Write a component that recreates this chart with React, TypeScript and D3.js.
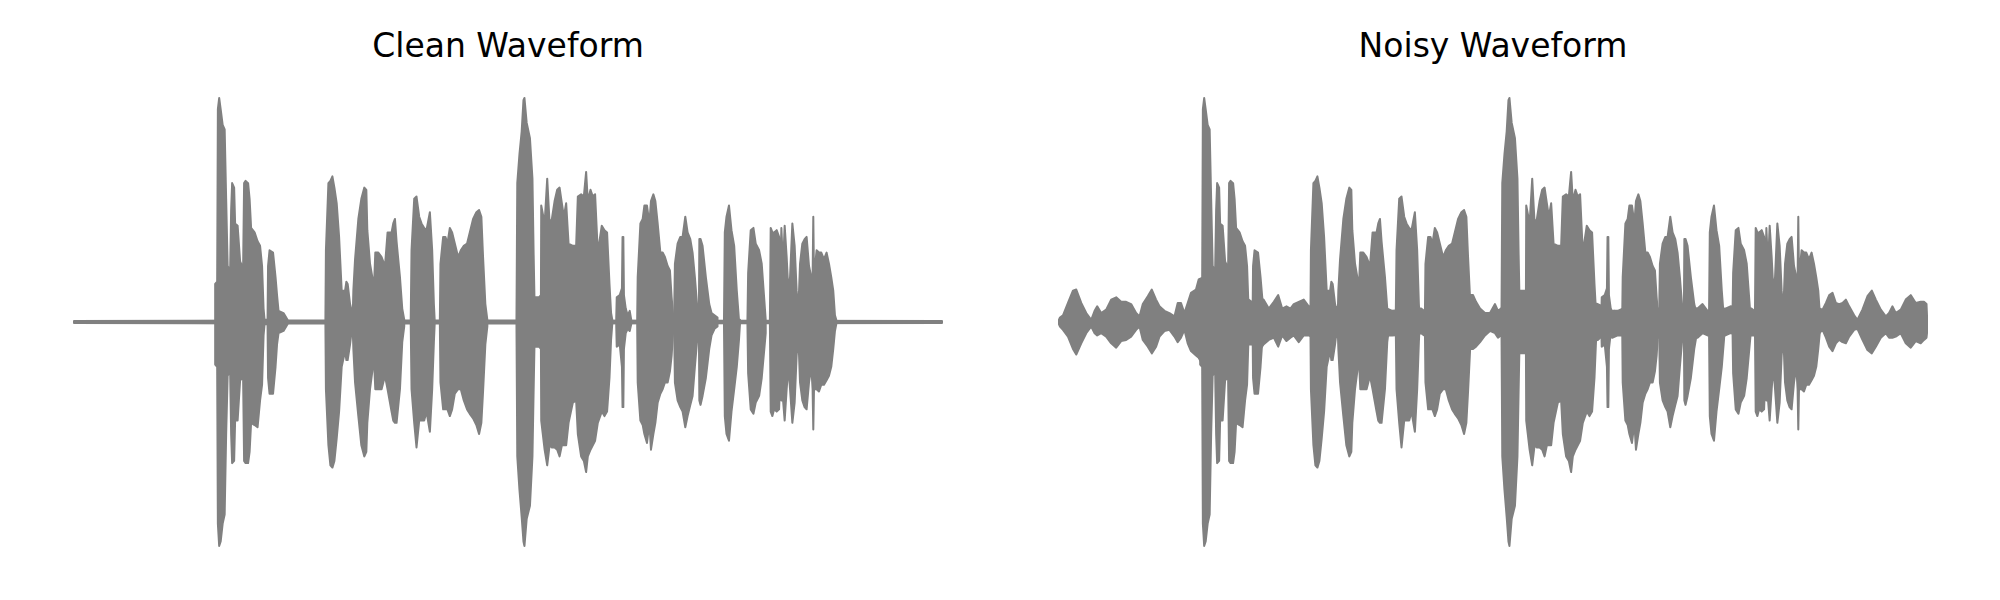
import * as d3 from 'd3';

// envelope points: [frame, upper, lower], amplitude normalised to +-1
type Pt = [number, number, number];

const FRAMES = 870;

const silence: Pt[] = [
  [0, 0.005, -0.005], [120, 0.006, -0.006], [250, 0.007, -0.007],
  [440, 0.007, -0.007], [700, 0.006, -0.006], [870, 0.005, -0.005],
];

const burst1: Pt[] = [
  [141.5, 0.17, -0.19], [143.5, 0.18, -0.2], [144.2, 0.95, -0.9], [145.5, 1.0, -1.0],
  [147, 0.95, -0.98], [149, 0.88, -0.9], [151, 0.86, -0.86], [152.5, 0.55, -0.5],
  [154, 0.25, -0.24], [156.5, 0.23, -0.22], [157.5, 0.5, -0.5], [158.5, 0.62, -0.63],
  [160.5, 0.6, -0.62], [161.5, 0.44, -0.44], [164, 0.43, -0.44], [166.5, 0.27, -0.26],
  [169.5, 0.24, -0.25], [170.5, 0.62, -0.62], [172, 0.63, -0.63], [174.5, 0.62, -0.63],
  [176, 0.55, -0.58], [177.5, 0.42, -0.45], [181, 0.4, -0.46], [184, 0.36, -0.47],
  [186.5, 0.34, -0.35], [188.5, 0.25, -0.28], [190, 0.06, -0.06], [191, 0.01, -0.01],
  [194, 0.01, -0.01], [194.5, 0.25, -0.25], [196, 0.32, -0.32], [199.5, 0.31, -0.32],
  [202, 0.2, -0.2], [203.5, 0.12, -0.1], [205, 0.05, -0.05], [210, 0.04, -0.04],
  [214, 0.01, -0.01],
];

const burst2: Pt[] = [
  [252, 0.015, -0.015], [252.5, 0.32, -0.3], [255, 0.62, -0.55], [257, 0.63, -0.64],
  [259, 0.65, -0.65], [261, 0.6, -0.62], [263.3, 0.53, -0.52], [265.7, 0.38, -0.4],
  [268.3, 0.14, -0.2], [271.7, 0.14, -0.13], [273, 0.18, -0.17], [274.3, 0.17, -0.17],
  [276.7, 0.08, -0.1], [278.3, 0.05, -0.04],
];

const burst3: Pt[] = [
  [279.5, 0.05, -0.05], [280, 0.14, -0.12], [281.7, 0.28, -0.27], [285, 0.46, -0.42],
  [288, 0.55, -0.55], [291, 0.6, -0.6], [293, 0.59, -0.58], [294, 0.41, -0.45],
  [296.7, 0.26, -0.3], [299, 0.2, -0.22], [300.5, 0.14, -0.15], [302, 0.31, -0.3],
  [305, 0.31, -0.3], [308.3, 0.29, -0.3], [311.7, 0.25, -0.24], [314.3, 0.4, -0.3],
  [318.3, 0.4, -0.4], [320, 0.44, -0.44], [321.7, 0.46, -0.45], [323.3, 0.36, -0.45],
  [326.7, 0.2, -0.3], [329, 0.06, -0.09], [331, 0.01, -0.02],
];

const burst4: Pt[] = [
  [337.5, 0.01, -0.01], [338.3, 0.32, -0.3], [341, 0.55, -0.45], [343.3, 0.56, -0.56],
  [346, 0.47, -0.44], [348.3, 0.44, -0.44], [351, 0.42, -0.44], [353.3, 0.41, -0.4],
  [356.7, 0.49, -0.49], [359, 0.32, -0.3], [360.7, 0.08, -0.09], [361.5, 0.01, -0.01],
];

const burst5: Pt[] = [
  [366.7, 0.01, -0.01], [367.3, 0.26, -0.27], [370, 0.38, -0.39], [372.3, 0.38, -0.39],
  [374.3, 0.35, -0.39], [376.7, 0.42, -0.42], [379, 0.4, -0.39], [381.7, 0.35, -0.32],
  [385, 0.29, -0.3], [387.7, 0.32, -0.3], [390.7, 0.34, -0.35], [394, 0.35, -0.39],
  [396.7, 0.4, -0.41], [400, 0.46, -0.43], [403.3, 0.49, -0.46], [406, 0.5, -0.5],
  [408.3, 0.47, -0.45], [410, 0.29, -0.31], [412.3, 0.08, -0.1], [414.3, 0.01, -0.02],
];

const burst6: Pt[] = [
  [443.5, 0.015, -0.015], [444.3, 0.62, -0.6], [446.5, 0.75, -0.75], [448.7, 0.85, -0.87],
  [450.5, 0.99, -0.98], [451.5, 1.0, -1.0], [453.7, 0.89, -0.88], [457, 0.82, -0.82],
  [459.5, 0.64, -0.6], [460.7, 0.3, -0.3], [461.5, 0.11, -0.11], [466, 0.11, -0.11],
  [468, 0.12, -0.12], [468.3, 0.52, -0.44], [471.7, 0.44, -0.57], [474.3, 0.64, -0.64],
  [476.7, 0.44, -0.55], [479, 0.46, -0.56], [481.7, 0.54, -0.56], [484.3, 0.59, -0.57],
  [486.7, 0.6, -0.6], [489, 0.53, -0.55], [491, 0.47, -0.55], [493.3, 0.53, -0.55],
  [495.7, 0.35, -0.45], [500, 0.34, -0.36], [503.3, 0.34, -0.35], [505, 0.56, -0.5],
  [508.3, 0.57, -0.6], [511, 0.56, -0.62], [513.3, 0.67, -0.67], [515, 0.54, -0.6],
  [517.7, 0.59, -0.57], [520, 0.56, -0.55], [522.3, 0.57, -0.53], [525, 0.31, -0.45],
  [529, 0.43, -0.4], [531.7, 0.41, -0.42], [534.3, 0.4, -0.4], [536.7, 0.17, -0.25],
  [538.3, 0.04, -0.08], [539.5, 0.01, -0.01],
];

const burst7: Pt[] = [
  [543.5, 0.02, -0.02], [544, 0.11, -0.11], [547, 0.12, -0.1], [549.2, 0.15, -0.2],
  [549.8, 0.38, -0.38], [550.6, 0.38, -0.38], [551.2, 0.12, -0.12], [553, 0.06, -0.05],
  [555, 0.03, -0.03], [557, 0.05, -0.04], [558.5, 0.01, -0.01],
];

const burst8: Pt[] = [
  [564.5, 0.02, -0.02], [565, 0.2, -0.27], [567.7, 0.44, -0.44], [570, 0.46, -0.46],
  [571.7, 0.52, -0.5], [574.3, 0.52, -0.54], [576.7, 0.44, -0.45], [578.3, 0.54, -0.57],
  [580.7, 0.57, -0.5], [582.7, 0.54, -0.45], [585, 0.44, -0.36], [587.7, 0.31, -0.32],
  [590, 0.31, -0.3], [592.3, 0.29, -0.27], [595, 0.25, -0.27], [597.3, 0.23, -0.22],
  [599, 0.11, -0.15], [600.7, 0.02, -0.03],
];

const burst9: Pt[] = [
  [601.5, 0.02, -0.02], [602.3, 0.26, -0.27], [605, 0.35, -0.35], [607.7, 0.38, -0.38],
  [610, 0.38, -0.4], [612.7, 0.47, -0.47], [615, 0.4, -0.42], [617.7, 0.37, -0.37],
  [620, 0.31, -0.33], [622.3, 0.2, -0.2], [625, 0.05, -0.06],
];

const burst10: Pt[] = [
  [626.3, 0.02, -0.02], [626.8, 0.37, -0.35], [628, 0.37, -0.37], [630, 0.34, -0.33],
  [633.3, 0.2, -0.25], [636.7, 0.08, -0.12], [639, 0.04, -0.06], [642, 0.03, -0.03],
  [645, 0.02, -0.02],
];

const burst11: Pt[] = [
  [651.5, 0.02, -0.02], [652.3, 0.4, -0.42], [654, 0.47, -0.5], [656.5, 0.52, -0.53],
  [659, 0.41, -0.4], [661.7, 0.34, -0.3], [664.3, 0.14, -0.2], [666.5, 0.01, -0.08],
  [667.5, 0.01, -0.01],
];

const burst12: Pt[] = [
  [675, 0.01, -0.01], [675.7, 0.22, -0.23], [678.3, 0.41, -0.39], [681, 0.42, -0.41],
  [683.3, 0.35, -0.36], [686.7, 0.32, -0.33], [689.3, 0.26, -0.25], [691.7, 0.11, -0.13],
  [693.3, 0.01, -0.05],
];

const burst13: Pt[] = [
  [697.5, 0.01, -0.01], [698.3, 0.42, -0.4], [700, 0.4, -0.42], [701.7, 0.4, -0.39],
  [704.3, 0.41, -0.4], [706.7, 0.38, -0.39], [707.7, 0.17, -0.27], [709, 0.42, -0.35],
  [710.7, 0.25, -0.35], [712.3, 0.43, -0.44], [714.3, 0.29, -0.3], [716, 0.14, -0.2],
  [717.7, 0.2, -0.3], [720, 0.44, -0.45], [722.3, 0.34, -0.36], [724.3, 0.14, -0.15],
  [726, 0.05, -0.06], [727.7, 0.26, -0.27], [730, 0.35, -0.35], [732.3, 0.37, -0.38],
  [734.3, 0.38, -0.39], [736.7, 0.25, -0.27], [739, 0.2, -0.2], [740.3, 0.2, -0.3],
  [741, 0.47, -0.48], [741.7, 0.2, -0.3], [744.3, 0.32, -0.3], [746.7, 0.31, -0.31],
  [749, 0.31, -0.28], [751.7, 0.28, -0.28], [754.3, 0.31, -0.26], [756.7, 0.26, -0.24],
  [759, 0.2, -0.2], [761, 0.14, -0.12], [762.7, 0.03, -0.04], [764, 0.01, -0.01],
];

const noiseFloor: Pt[] = [
  [0, 0.01, -0.01], [1, 0.02, -0.02], [4, 0.03, -0.035], [9, 0.085, -0.065],
  [14, 0.14, -0.12], [17.3, 0.145, -0.145], [22.3, 0.085, -0.095], [27.3, 0.04, -0.05],
  [32.3, 0.01, -0.02], [35.7, 0.05, -0.05], [38.3, 0.07, -0.06], [42.3, 0.04, -0.05],
  [47.3, 0.055, -0.065], [52.3, 0.1, -0.095], [57.3, 0.11, -0.115], [62.3, 0.09, -0.085],
  [67.3, 0.09, -0.08], [72.3, 0.08, -0.065], [77.3, 0.04, -0.035], [80.7, 0.025, -0.02],
  [84, 0.08, -0.08], [89, 0.115, -0.11], [93, 0.145, -0.14], [97.3, 0.1, -0.11],
  [100.7, 0.07, -0.065], [105.7, 0.05, -0.04], [110.7, 0.04, -0.035], [115.7, 0.025, -0.065],
  [119, 0.085, -0.09], [122.3, 0.085, -0.07], [125.7, 0.04, -0.035], [129, 0.085, -0.095],
  [132.3, 0.13, -0.13], [137.3, 0.145, -0.15], [140, 0.19, -0.16], [145, 0.2, -0.2],
  [190, 0.1, -0.1], [193, 0.09, -0.1], [202, 0.1, -0.12], [205, 0.1, -0.1],
  [210.3, 0.06, -0.08], [215.3, 0.09, -0.07], [219.7, 0.12, -0.11], [223.7, 0.06, -0.06],
  [228, 0.07, -0.085], [232, 0.06, -0.07], [235.3, 0.08, -0.06], [240.3, 0.09, -0.09],
  [245.3, 0.1, -0.06], [250.3, 0.07, -0.06], [255, 0.07, -0.07], [329, 0.06, -0.06],
  [334, 0.05, -0.06], [363, 0.06, -0.05], [366, 0.05, -0.06], [409, 0.13, -0.14],
  [412, 0.12, -0.12], [415, 0.12, -0.12], [418, 0.09, -0.11], [422, 0.06, -0.09],
  [427, 0.04, -0.06], [432, 0.04, -0.04], [437, 0.08, -0.05], [440, 0.05, -0.07],
  [443, 0.06, -0.06], [462, 0.14, -0.14], [468, 0.14, -0.14], [540, 0.08, -0.08],
  [545, 0.07, -0.06], [555, 0.05, -0.07], [560, 0.05, -0.06], [565, 0.06, -0.06],
  [601, 0.06, -0.07], [626, 0.07, -0.06], [640, 0.06, -0.07], [645, 0.08, -0.05],
  [650, 0.05, -0.06], [668, 0.06, -0.06], [673, 0.07, -0.05], [694, 0.06, -0.06],
  [697, 0.05, -0.06], [727, 0.06, -0.06], [762, 0.06, -0.05], [765.3, 0.055, -0.035],
  [768.7, 0.085, -0.07], [772, 0.12, -0.11], [775.3, 0.13, -0.13], [778.7, 0.085, -0.095],
  [782, 0.08, -0.08], [785.3, 0.085, -0.09], [788.7, 0.1, -0.095], [792, 0.07, -0.065],
  [797, 0.03, -0.035], [800.3, 0.01, -0.03], [805.3, 0.055, -0.08], [810.3, 0.115, -0.125],
  [814.7, 0.14, -0.14], [818.7, 0.1, -0.11], [823.7, 0.055, -0.07], [828.7, 0.025, -0.05],
  [832, 0.04, -0.07], [835.3, 0.07, -0.07], [838.7, 0.04, -0.065], [843.7, 0.055, -0.05],
  [848.7, 0.1, -0.095], [853.7, 0.12, -0.115], [858.7, 0.085, -0.085], [863.7, 0.09, -0.095],
  [867, 0.09, -0.08], [869.5, 0.08, -0.07], [870, 0.03, -0.05],
];

const bursts = [
  burst1, burst2, burst3, burst4, burst5, burst6, burst7,
  burst8, burst9, burst10, burst11, burst12, burst13,
];

const titles = ['Clean Waveform', 'Noisy Waveform'];

const WIDTH = 2000;
const HEIGHT = 600;
const GRAY = '#808080';

function Panel({ title, left, right, layers }: { title: string; left: number; right: number; layers: Pt[][] }) {
  const x = d3.scaleLinear().domain([0, FRAMES]).range([left, right]);
  const y = d3.scaleLinear().domain([-1.1, 1.1]).range([568.4, 75.6]);
  const area = d3
    .area<Pt>()
    .x((d) => x(d[0]))
    .y0((d) => y(d[2]))
    .y1((d) => y(d[1]));

  return (
    <g>
      <text
        x={(left + right) / 2}
        y={57}
        textAnchor="middle"
        fontFamily="DejaVu Sans"
        fontSize={33}
        fill="#000"
      >
        {title}
      </text>
      {layers.map((pts, i) => (
        <path
          key={i}
          d={area(pts) || ''}
          fill={GRAY}
          stroke={GRAY}
          strokeWidth={2}
          strokeLinejoin="round"
        />
      ))}
    </g>
  );
}

export default function App() {
  return (
    <svg
      width={WIDTH}
      height={HEIGHT}
      viewBox={`0 0 ${WIDTH} ${HEIGHT}`}
      style={{ position: 'absolute', left: 0, top: 0, background: '#fff' }}
    >
      <Panel title={titles[0]} left={74} right={942} layers={[silence, ...bursts]} />
      <Panel title={titles[1]} left={1059} right={1927} layers={[silence, noiseFloor, ...bursts]} />
    </svg>
  );
}
